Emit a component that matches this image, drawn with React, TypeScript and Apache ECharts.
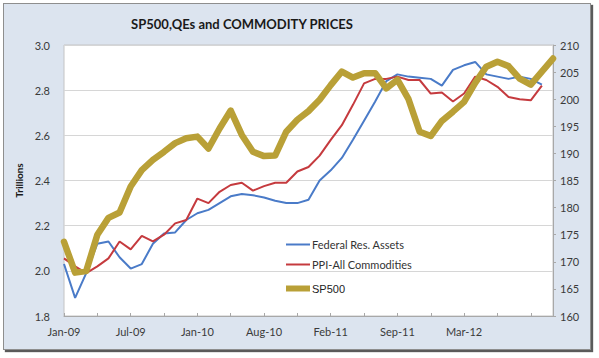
import React, { useEffect, useRef } from "react";
import * as echarts from "echarts";

const categories = [
  "Jan-09", "Feb-09", "Mar-09", "Apr-09", "May-09", "Jun-09", "Jul-09", "Aug-09", "Sep-09", "Oct-09", "Nov-09", "Dec-09",
  "Jan-10", "Feb-10", "Mar-10", "May-10", "Jun-10", "Jul-10", "Aug-10", "Sep-10", "Oct-10", "Nov-10", "Dec-10",
  "Jan-11", "Feb-11", "Mar-11", "Apr-11", "May-11", "Jun-11", "Aug-11", "Sep-11", "Oct-11", "Nov-11", "Dec-11",
  "Jan-12", "Feb-12", "Mar-12", "Apr-12", "May-12", "Jun-12", "Jul-12", "Aug-12", "Sep-12", "Oct-12", "Dec-12",
];

const shownLabels = ["Jan-09", "Jul-09", "Jan-10", "Aug-10", "Feb-11", "Sep-11", "Mar-12"];

const fedAssets = [
  2.03, 1.88, 1.99, 2.12, 2.13, 2.06, 2.01, 2.03, 2.12, 2.165, 2.17, 2.225,
  2.255, 2.27, 2.3, 2.33, 2.34, 2.335, 2.325, 2.31, 2.3, 2.3, 2.315,
  2.4, 2.445, 2.5, 2.58, 2.665, 2.75, 2.84, 2.87, 2.86, 2.855, 2.85,
  2.82, 2.89, 2.91, 2.925, 2.87, 2.86, 2.85, 2.86, 2.85, 2.825, null,
];

const ppiAll = [
  2.055, 2.02, 1.99, 2.02, 2.055, 2.13, 2.095, 2.155, 2.13, 2.16, 2.21, 2.225,
  2.32, 2.3, 2.35, 2.38, 2.39, 2.355, 2.375, 2.39, 2.39, 2.44, 2.46,
  2.51, 2.58, 2.645, 2.735, 2.83, 2.85, 2.85, 2.86, 2.845, 2.845, 2.785,
  2.79, 2.75, 2.785, 2.86, 2.845, 2.815, 2.77, 2.76, 2.755, 2.82, null,
];

const sp500 = [
  173.7, 168.0, 168.3, 175.0, 178.1, 179.1, 183.9, 186.9, 188.8, 190.3, 191.9, 192.8,
  193.1, 190.9, 194.6, 197.9, 193.4, 190.3, 189.5, 189.6, 194.0, 196.2, 197.8,
  199.9, 202.6, 205.1, 204.0, 204.8, 204.8, 202.0, 203.6, 200.0, 194.0, 193.2,
  196.0, 197.7, 199.5, 203.0, 206.0, 206.9, 206.1, 203.8, 202.7, 205.1, 207.5,
];

const FONT = "Lato, 'DejaVu Sans', sans-serif";

export default function App() {
  const ref = useRef<HTMLDivElement>(null);

  useEffect(() => {
    if (!ref.current) return;
    const chart = echarts.init(ref.current, undefined, { renderer: "svg" });
    chart.setOption({
      animation: false,
      title: {
        text: "SP500,QEs and COMMODITY PRICES",
        left: 237,
        top: 12,
        textAlign: "center",
        textStyle: { fontFamily: FONT, fontSize: 13, fontWeight: "bold", color: "#1a1a1a" },
      },
      grid: {
        left: 64,
        right: 46,
        top: 45,
        bottom: 42,
        show: true,
        backgroundColor: "#ffffff",
        borderColor: "#c4c4c4",
        borderWidth: 1,
      },
      legend: [
        {
          orient: "vertical",
          left: 281,
          top: 234,
          itemWidth: 24,
          itemHeight: 2,
          itemGap: 9,
          icon: "rect",
          data: ["Federal Res. Assets", "PPI-All Commodities"],
          textStyle: { fontFamily: FONT, fontSize: 11, color: "#333333", padding: [0, 0, 0, -3] },
        },
        {
          orient: "vertical",
          left: 281,
          top: 278,
          itemWidth: 24,
          itemHeight: 6,
          icon: "rect",
          data: ["SP500"],
          textStyle: { fontFamily: "'Liberation Sans', Arial, sans-serif", fontSize: 11, color: "#222222", padding: [0, 0, 0, -3] },
        },
      ],
      xAxis: {
        type: "category",
        data: categories,
        boundaryGap: false,
        axisLine: { show: true, lineStyle: { color: "#a8a8a8" } },
        axisTick: { show: true, interval: 2, inside: true, length: 3, lineStyle: { color: "#a8a8a8" } },
        axisLabel: {
          interval: (i: number, v: string) => i % 6 === 0 && shownLabels.indexOf(v) >= 0,
          fontFamily: FONT,
          fontSize: 11,
          color: "#3a3a3a",
          margin: 10,
        },
        splitLine: { show: false },
      },
      yAxis: [
        {
          type: "value",
          min: 1.8,
          max: 3.0,
          interval: 0.2,
          name: "Trillions",
          nameLocation: "middle",
          nameRotate: 90,
          nameGap: 36,
          nameTextStyle: { fontFamily: FONT, fontSize: 10, fontWeight: "bold", color: "#1a1a1a" },
          axisLine: { show: false },
          axisTick: { show: false },
          axisLabel: {
            fontFamily: FONT,
            fontSize: 11,
            color: "#3a3a3a",
            margin: 14,
            formatter: (v: number) => v.toFixed(1),
          },
          splitLine: { show: true, lineStyle: { color: "#d6d6d6", width: 1 } },
        },
        {
          type: "value",
          min: 160,
          max: 210,
          interval: 5,
          position: "right",
          axisLine: { show: true, lineStyle: { color: "#a8a8a8" } },
          axisTick: { show: true, length: 3, lineStyle: { color: "#a8a8a8" } },
          axisLabel: { fontFamily: FONT, fontSize: 11, color: "#3a3a3a", margin: 7 },
          splitLine: { show: false },
        },
      ],
      series: [
        {
          name: "Federal Res. Assets",
          type: "line",
          yAxisIndex: 0,
          data: fedAssets,
          showSymbol: false,
          color: "#4a7bc8",
          lineStyle: { width: 2, color: "#4a7bc8" },
          z: 3,
        },
        {
          name: "PPI-All Commodities",
          type: "line",
          yAxisIndex: 0,
          data: ppiAll,
          showSymbol: false,
          color: "#c53a3e",
          lineStyle: { width: 2, color: "#c53a3e" },
          z: 3,
        },
        {
          name: "SP500",
          type: "line",
          yAxisIndex: 1,
          data: sp500,
          showSymbol: false,
          color: "#b9a037",
          lineStyle: { width: 6.5, color: "#b9a037", join: "round", cap: "round" },
          z: 4,
        },
      ],
    });
    return () => chart.dispose();
  }, []);

  return (
    <div style={{ position: "fixed", left: 0, top: 0, width: 599, height: 358, background: "#ffffff" }}>
      <div
        style={{
          position: "absolute",
          left: 3,
          top: 3,
          width: 588,
          height: 347,
          boxSizing: "border-box",
          background: "#dce4ef",
          border: "1px solid #8e8e8e",
          boxShadow: "2px 2px 1px #5a5a5a",
        }}
      />
      <div ref={ref} style={{ position: "absolute", left: 0, top: 0, width: 599, height: 358 }} />
    </div>
  );
}
